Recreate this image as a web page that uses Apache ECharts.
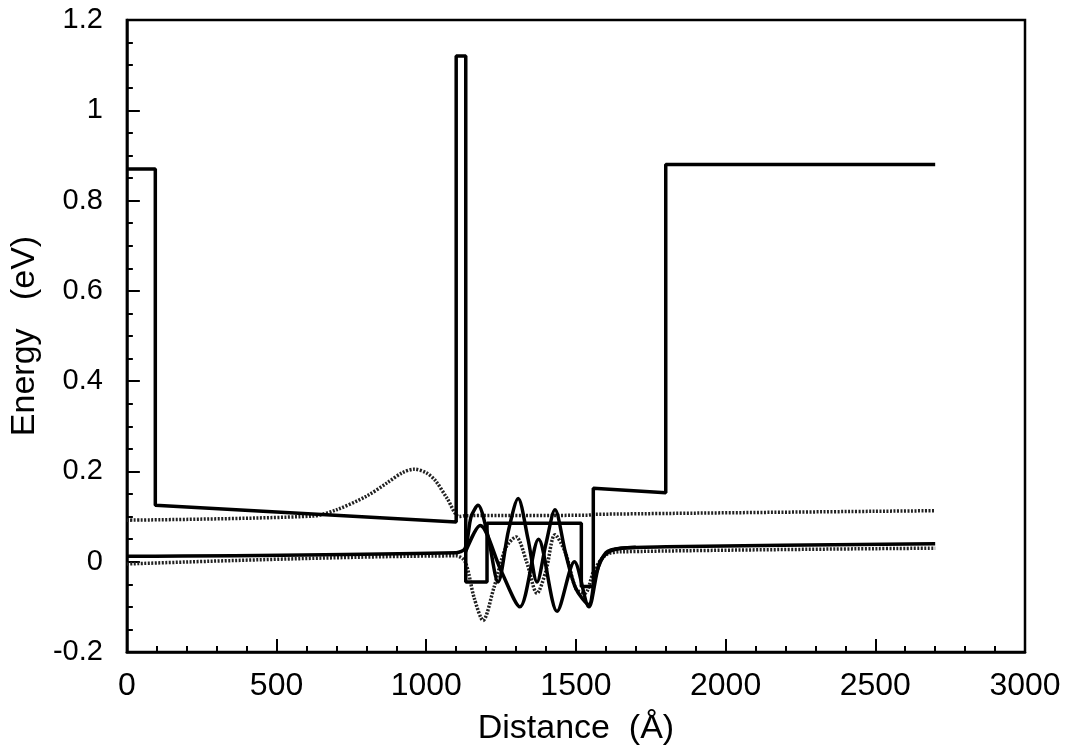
<!DOCTYPE html>
<html>
<head>
<meta charset="utf-8">
<script src="https://cdn.jsdelivr.net/npm/echarts@6/dist/echarts.min.js"></script>
<style>
html,body{margin:0;padding:0;background:#fff;}
#chart{width:1073px;height:751px;}
</style>
</head>
<body>
<div id="chart"></div>
<script>
// Conduction band profile
const bandX = [0, 95, 95, 1100, 1100, 1132, 1132, 1203, 1203, 1518, 1518, 1558, 1558, 1800, 1800, 2700];
const bandY = [0.87, 0.87, 0.125, 0.088, 1.12, 1.12, -0.045, -0.045, 0.085, 0.085, -0.055, -0.055, 0.163, 0.153, 0.88, 0.88];

// Wavefunction A (dotted, upper level with hump)
const aX = [0, 620, 700, 800, 870, 920, 960, 1000, 1030, 1070, 1110, 1135, 1540, 1560, 2700];
const aY = [0.092, 0.101, 0.115, 0.145, 0.175, 0.197, 0.205, 0.197, 0.18, 0.14, 0.1, 0.102, 0.103, 0.105, 0.113];

// Wavefunction B (solid)
const bX = [0, 1100, 1130, 1150, 1173, 1205, 1240, 1275, 1307, 1340, 1370, 1400, 1430, 1465, 1500, 1543, 1565, 1600, 1650, 1800, 2700];
const bY = [0.012, 0.02, 0.03, 0.1, 0.125, 0.06, -0.045, 0.07, 0.14, 0.05, -0.045, 0.04, 0.115, 0.02, -0.06, -0.095, -0.03, 0.02, 0.03, 0.033, 0.04];

// Wavefunction D (solid)
const dX = [1130, 1180, 1250, 1313, 1375, 1437, 1495, 1543, 1580, 1620, 1700];
const dY = [0.02, 0.08, -0.02, -0.1, 0.05, -0.11, 0.0, -0.1, 0.0, 0.025, 0.032];

// Wavefunction C (dotted)
const cX = [0, 1100, 1130, 1160, 1190, 1225, 1265, 1300, 1335, 1370, 1400, 1430, 1465, 1500, 1530, 1560, 1600, 1650, 2700];
const cY = [-0.005, 0.013, 0.0, -0.08, -0.13, -0.06, 0.03, 0.055, 0.0, -0.07, -0.02, 0.06, 0.02, -0.06, -0.07, -0.02, 0.015, 0.022, 0.03];

const xTicks = [0, 500, 1000, 1500, 2000, 2500, 3000];
const yTicks = [-0.2, 0, 0.2, 0.4, 0.6, 0.8, 1, 1.2];

function pairs(xs, ys) { return xs.map((x, i) => [x, ys[i]]); }

const chart = echarts.init(document.getElementById('chart'), null, {renderer: 'canvas'});
const font = '"Liberation Sans", Arial, Helvetica, sans-serif';
const narrow = '"Liberation Sans Narrow", "Arial Narrow", ' + font;
chart.setOption({
  animation: false,
  backgroundColor: '#fff',
  grid: {left: 125, right: 48, top: 20, bottom: 99, show: true, borderColor: '#000', borderWidth: 2.5},
  xAxis: {
    type: 'value', min: xTicks[0], max: xTicks[xTicks.length - 1], interval: 500,
    name: 'Distance  (Å)', nameLocation: 'middle', nameGap: 60,
    nameTextStyle: {fontFamily: narrow, fontSize: 34, color: '#000'},
    axisLine: {onZero: false, lineStyle: {color: '#000', width: 2.5}},
    axisTick: {inside: true, length: 13, lineStyle: {color: '#000', width: 2}},
    minorTick: {show: true, splitNumber: 5, length: 6, lineStyle: {color: '#000', width: 2}},
    axisLabel: {fontFamily: narrow, fontSize: 32, color: '#000', margin: 18,
      formatter: v => String(v)},
    splitLine: {show: false}
  },
  yAxis: {
    type: 'value', min: yTicks[0], max: yTicks[yTicks.length - 1], interval: 0.2,
    name: 'Energy   (eV)', nameLocation: 'middle', nameGap: 82,
    nameTextStyle: {fontFamily: font, fontSize: 34, color: '#000'},
    axisLine: {onZero: false, lineStyle: {color: '#000', width: 2.5}},
    axisTick: {inside: true, length: 13, lineStyle: {color: '#000', width: 2}},
    minorTick: {show: true, splitNumber: 4, length: 6, lineStyle: {color: '#000', width: 2}},
    axisLabel: {fontFamily: font, fontSize: 29, color: '#000', margin: 24,
      formatter: v => (Math.abs(v) < 1e-9 ? '0' : String(Math.round(v * 10) / 10))},
    splitLine: {show: false}
  },
  series: [
    {type: 'line', data: pairs(aX, aY), showSymbol: false, smooth: 0.3,
     lineStyle: {color: '#222', width: 3.5, type: [2, 1.5]}},
    {type: 'line', data: pairs(cX, cY), showSymbol: false, smooth: 0.3,
     lineStyle: {color: '#222', width: 3.5, type: [2, 1.5]}},
    {type: 'line', data: pairs(bX, bY), showSymbol: false, smooth: 0.3,
     lineStyle: {color: '#000', width: 3.5}},
    {type: 'line', data: pairs(dX, dY), showSymbol: false, smooth: 0.3,
     lineStyle: {color: '#000', width: 3.5}},
    {type: 'line', data: pairs(bandX, bandY), showSymbol: false,
     lineStyle: {color: '#000', width: 3.5}}
  ]
});
</script>
</body>
</html>
